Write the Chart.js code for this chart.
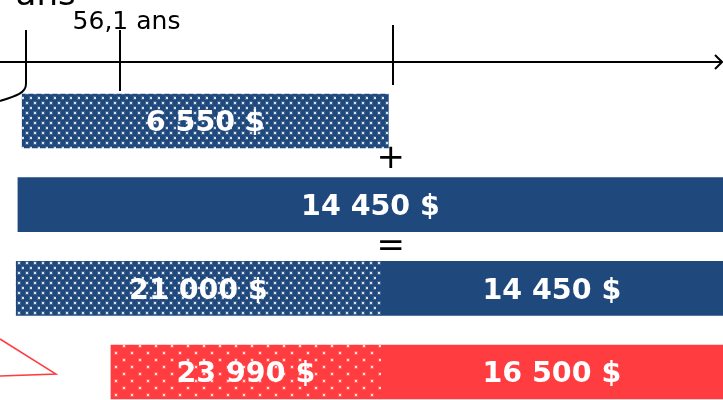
<!DOCTYPE html>
<html>
<head>
<meta charset="utf-8">
<script src="https://cdn.jsdelivr.net/npm/chart.js@4"></script>
<style>
  html, body { margin: 0; padding: 0; background: #fff; }
  #wrap { width: 723px; height: 400px; }
</style>
</head>
<body>
<div id="wrap"><canvas id="rentesChart"></canvas></div>
<script>
// rows of the schema, top to bottom
const rows = ["Rente anticipée", "Rente", "Total", "Comparaison"];

// timeline (ages) where each part of a row begins and ends
const dottedSpans = [[54.96, 59.25], null, [54.89, 59.16], [56.0, 59.16]];
const solidSpans = [null, [54.91, 64], [59.16, 64], [59.16, 64]];

// amounts written in the bars
const dottedAmounts = [6550, null, 21000, 23990];
const solidAmounts = [null, 14450, 14450, 16500];

// timeline ticks
const tickAges = [55, 56.1, 59.3];
const tickLabels = ["ans", "56,1 ans", ""];

const BLUE = "#1F497D";
const RED = "#FF3C40";

function dotPattern(bg, w, h, pts) {
  const c = document.createElement("canvas");
  c.width = w;
  c.height = h;
  const g = c.getContext("2d");
  g.fillStyle = bg;
  g.fillRect(0, 0, w, h);
  pts.forEach(([x, y]) => {
    g.fillStyle = "rgba(255,255,255,0.15)";
    g.fillRect(x - 1, y - 1, 4, 4);
    g.fillStyle = "rgba(255,255,255,0.8)";
    g.fillRect(x, y, 2, 2);
  });
  return g.createPattern(c, "repeat");
}

const bluePattern = dotPattern(BLUE, 8, 10, [[2, 2], [6, 7]]);
const redPattern = dotPattern(RED, 16, 14, [[3, 2], [11, 9]]);

function money(v) {
  return String(v).replace(/\B(?=(\d{3})+(?!\d))/g, " ") + " $";
}

const barLabels = {
  id: "barLabels",
  afterDatasetsDraw(chart) {
    const ctx = chart.ctx;
    const amounts = [dottedAmounts, solidAmounts];
    ctx.save();
    ctx.font = "bold 28.5px 'DejaVu Sans'";
    ctx.fillStyle = "#fff";
    ctx.textAlign = "center";
    ctx.textBaseline = "middle";
    chart.data.datasets.forEach((ds, di) => {
      chart.getDatasetMeta(di).data.forEach((bar, i) => {
        const v = amounts[di][i];
        if (v == null) return;
        const left = Math.max(Math.min(bar.x, bar.base), 0);
        const right = Math.min(Math.max(bar.x, bar.base), chart.width);
        ctx.fillText(money(v), (left + right) / 2, bar.y + 3);
      });
    });

    // operators between the first rows
    const y = chart.scales.y;
    const opX = chart.scales.x.getPixelForValue(tickAges[2]) - 2;
    ctx.fillStyle = "#000";
    ctx.font = "34px 'DejaVu Sans'";
    ctx.fillText("+", opX, (y.getPixelForValue(0) + y.getPixelForValue(1)) / 2 - 4);
    ctx.fillText("=", opX, (y.getPixelForValue(1) + y.getPixelForValue(2)) / 2 + 1);

    // red callout pointer at the left of the last row
    const last = chart.getDatasetMeta(0).data[3];
    const tipX = Math.min(last.x, last.base) - 55;
    const tipY = last.y + 2;
    ctx.strokeStyle = RED;
    ctx.lineWidth = 1.5;
    ctx.beginPath();
    ctx.moveTo(0, tipY - 35);
    ctx.lineTo(tipX, tipY);
    ctx.lineTo(0, tipY + 2);
    ctx.stroke();
    ctx.restore();
  },
};

const timeline = {
  id: "timeline",
  afterDraw(chart) {
    const ctx = chart.ctx;
    const x = chart.scales.x;
    const axisY = 62;
    const w = chart.width;
    ctx.save();
    ctx.strokeStyle = "#000";
    ctx.lineWidth = 2;
    ctx.beginPath();
    ctx.moveTo(0, axisY);
    ctx.lineTo(w - 2, axisY);
    ctx.moveTo(w - 8, axisY - 7);
    ctx.lineTo(w - 1, axisY);
    ctx.lineTo(w - 8, axisY + 7);
    ctx.stroke();

    tickAges.forEach((age, i) => {
      const px = Math.round(x.getPixelForValue(age));
      ctx.beginPath();
      if (i === 0) {
        ctx.moveTo(px, 30);
        ctx.lineTo(px, 84);
        ctx.bezierCurveTo(px, 93, px - 10, 96, px - 26, 101);
      } else if (i === 1) {
        ctx.moveTo(px, 30);
        ctx.lineTo(px, 91);
      } else {
        ctx.moveTo(px, 25);
        ctx.lineTo(px, 85);
      }
      ctx.stroke();
    });

    ctx.fillStyle = "#000";
    ctx.textAlign = "center";
    ctx.textBaseline = "alphabetic";
    ctx.font = "34px 'DejaVu Sans'";
    ctx.fillText(tickLabels[0], x.getPixelForValue(tickAges[0]) + 20, 5);
    ctx.font = "25px 'DejaVu Sans'";
    ctx.fillText(tickLabels[1], x.getPixelForValue(tickAges[1]) + 7, 29);
    ctx.restore();
  },
};

new Chart(document.getElementById("rentesChart"), {
  type: "bar",
  data: {
    labels: rows,
    datasets: [
      {
        label: "Partie pointillée",
        data: dottedSpans,
        backgroundColor: [bluePattern, bluePattern, bluePattern, redPattern],
        clip: false,
      },
      {
        label: "Partie pleine",
        data: solidSpans,
        backgroundColor: [BLUE, BLUE, BLUE, RED],
        clip: false,
      },
    ],
  },
  options: {
    indexAxis: "y",
    responsive: true,
    maintainAspectRatio: false,
    animation: false,
    grouped: false,
    barThickness: 54,
    layout: { padding: { top: 121, bottom: 28, left: 0, right: 0 } },
    scales: {
      x: { display: false, min: 54.7, max: 63.17 },
      y: { display: false, offset: false },
    },
    plugins: {
      legend: { display: false },
      tooltip: { enabled: false },
    },
  },
  plugins: [barLabels, timeline],
});
</script>
</body>
</html>
